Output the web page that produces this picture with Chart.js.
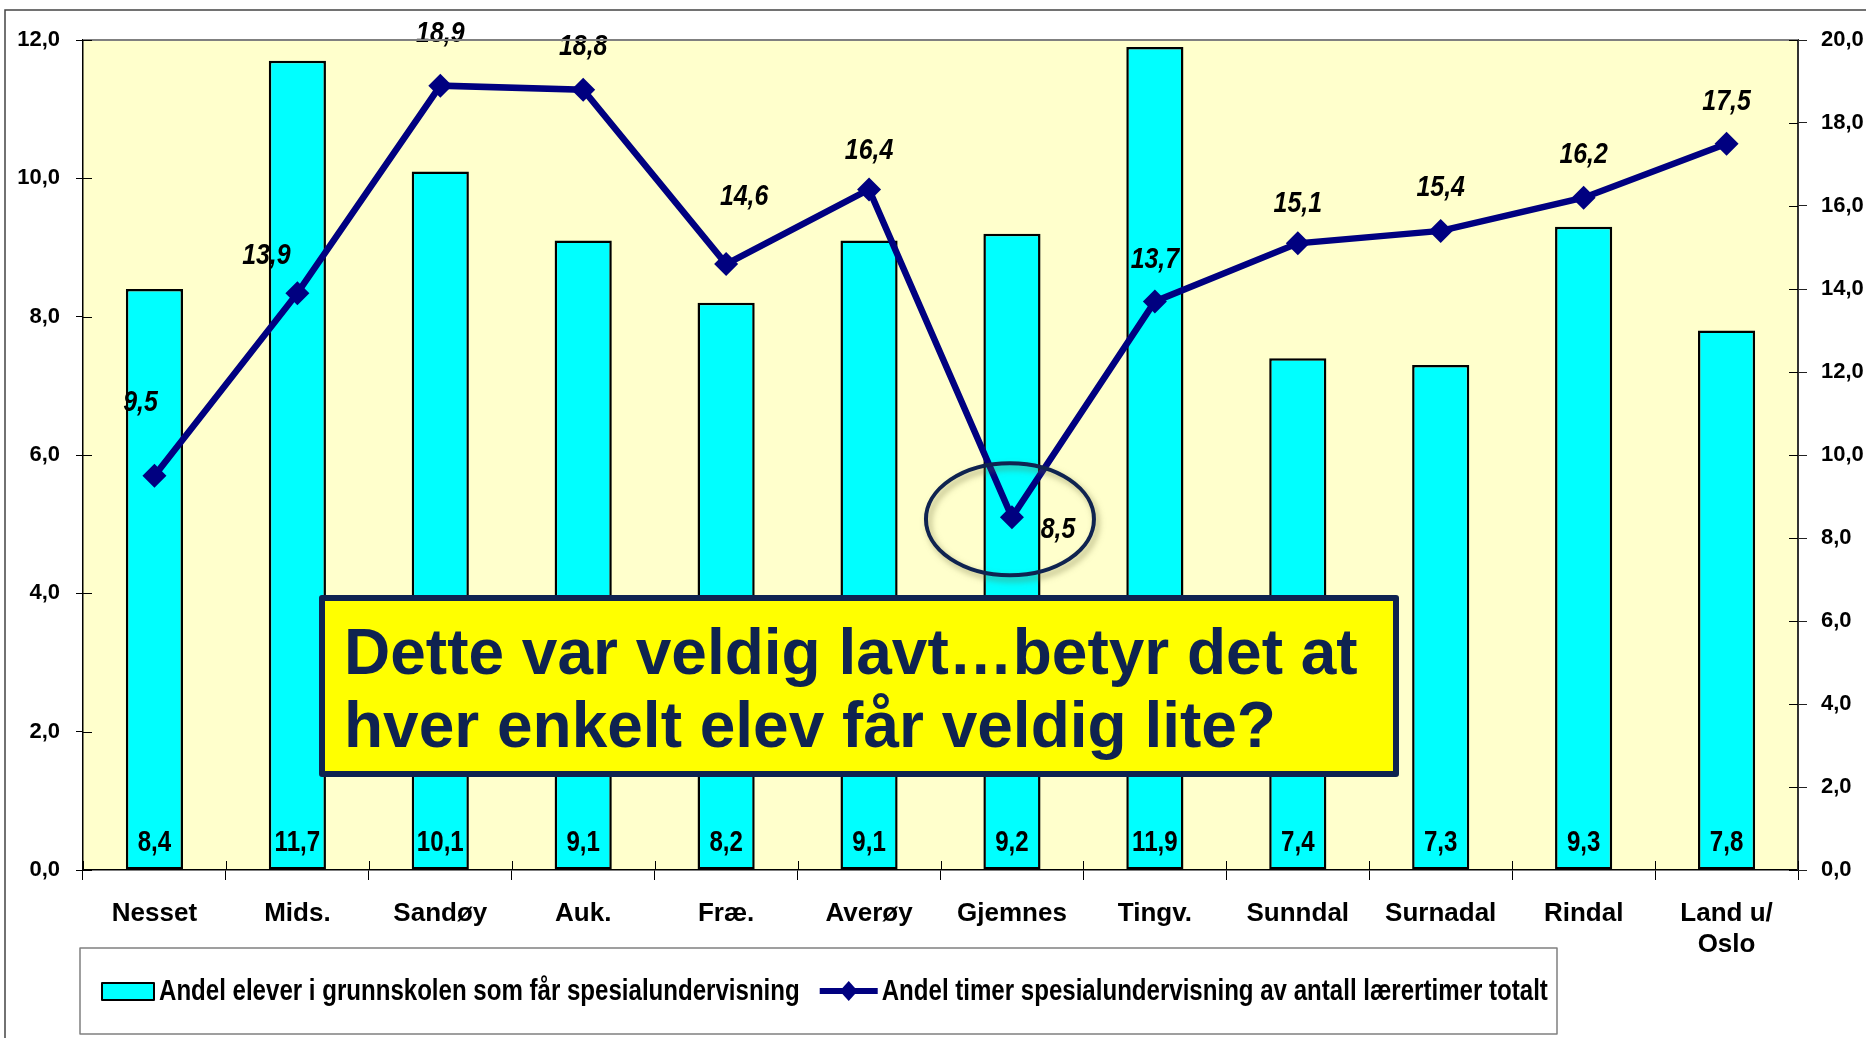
<!DOCTYPE html>
<html><head><meta charset="utf-8">
<script src="https://cdn.jsdelivr.net/npm/chart.js@4.4.0/dist/chart.umd.min.js"></script>
<style>html,body{margin:0;padding:0;background:#fff;overflow:hidden}canvas{display:block}</style>
</head><body>
<canvas id="c" width="1866" height="1038"></canvas>
<script>
// ---- data ----
const categories = ['Nesset','Mids.','Sandøy','Auk.','Fræ.','Averøy','Gjemnes','Tingv.','Sunndal','Surnadal','Rindal',['Land u/','Oslo']];
const elevShare = [8.4,11.7,10.1,9.1,8.2,9.1,9.2,11.9,7.4,7.3,9.3,7.8];
const timerShare = [9.5,13.9,18.9,18.8,14.6,16.4,8.5,13.7,15.1,15.4,16.2,17.5];
const leftTicks = [0,2,4,6,8,10,12];
const rightTicks = [0,2,4,6,8,10,12,14,16,18,20];
const seriesNames = ['Andel elever i grunnskolen som får spesialundervisning','Andel timer spesialundervisning av antall lærertimer totalt'];
const calloutLines = ['Dette var veldig lavt…betyr det at','hver enkelt elev får veldig lite?'];
const highlightIndex = 6;

// ---- styles ----
const FONT = "'Liberation Sans',Arial,sans-serif";
const NAVY = '#000080';
const DARK = '#0f2350';
const CYAN = '#00FFFF';
const SQUEEZE = 0.83; // imitate a narrow face
const fmt = v => Number(v).toFixed(1).replace('.', ',');
// label offsets (px) for the line value labels, relative to each point
const lineLabelOffset = [[-14,-73],[-31,-37],[0,-52],[0,-43],[18,-67],[0,-39],[46,12],[0,-42],[0,-40],[0,-43],[0,-43],[0,-42]];

Chart.defaults.font.family = FONT;
Chart.defaults.font.weight = 'bold';
Chart.defaults.color = '#000';

function narrowText(ctx, text, x, y, align) {
  ctx.save();
  ctx.translate(x, y);
  ctx.scale(SQUEEZE, 1);
  ctx.textAlign = align;
  ctx.fillText(text, 0, 0);
  ctx.restore();
}

const decor = {
  id: 'decor',
  beforeDraw(chart) {
    const ctx = chart.ctx, a = chart.chartArea;
    ctx.save();
    ctx.fillStyle = '#fff';
    ctx.fillRect(0, 0, chart.width, chart.height);
    ctx.strokeStyle = '#444';
    ctx.lineWidth = 1.5;
    ctx.strokeRect(5, 10, chart.width + 20, chart.height + 20);
    ctx.fillStyle = '#FFFFCC';
    ctx.fillRect(a.left, a.top, a.right - a.left, a.bottom - a.top);
    ctx.restore();
  },
  afterDatasetsDraw(chart) {
    const ctx = chart.ctx;
    ctx.save();
    const barMeta = chart.getDatasetMeta(0);
    const base = chart.scales.y.getPixelForValue(0);
    ctx.font = "bold 29px " + FONT;
    ctx.fillStyle = '#000';
    ctx.textBaseline = 'middle';
    barMeta.data.forEach((el, i) => {
      narrowText(ctx, fmt(elevShare[i]), el.x, base - 27, 'center');
    });
    const lineMeta = chart.getDatasetMeta(1);
    ctx.font = "italic bold 30px " + FONT;
    lineMeta.data.forEach((el, i) => {
      const o = lineLabelOffset[i];
      narrowText(ctx, fmt(timerShare[i]), el.x + o[0], el.y + o[1], 'center');
    });
    ctx.restore();
  },
  afterDraw(chart) {
    const ctx = chart.ctx, a = chart.chartArea;
    ctx.save();
    ctx.strokeStyle = '#808080';
    ctx.lineWidth = 2;
    ctx.beginPath(); ctx.moveTo(a.left, a.top); ctx.lineTo(a.right, a.top); ctx.stroke();
    // inner tick halves
    ctx.strokeStyle = '#000';
    ctx.lineWidth = 1;
    ctx.beginPath();
    chart.scales.y.ticks.forEach(t => {
      const y = Math.round(chart.scales.y.getPixelForValue(t.value)) + 0.5;
      ctx.moveTo(a.left, y); ctx.lineTo(a.left + 9, y);
    });
    chart.scales.y1.ticks.forEach(t => {
      const y = Math.round(chart.scales.y1.getPixelForValue(t.value)) + 0.5;
      ctx.moveTo(a.right - 9, y); ctx.lineTo(a.right, y);
    });
    const n = categories.length, w = (a.right - a.left) / n;
    for (let i = 0; i <= n; i++) {
      const x = Math.round(a.left + i * w) + 0.5;
      ctx.moveTo(x, a.bottom - 9); ctx.lineTo(x, a.bottom);
    }
    ctx.stroke();

    // ellipse around highlighted point
    const p = chart.getDatasetMeta(1).data[highlightIndex];
    ctx.save();
    ctx.shadowColor = 'rgba(110,110,60,0.55)';
    ctx.shadowBlur = 6;
    ctx.shadowOffsetX = 3;
    ctx.shadowOffsetY = 4;
    ctx.strokeStyle = DARK;
    ctx.lineWidth = 4;
    ctx.beginPath();
    ctx.ellipse(p.x - 2, p.y + 2, 84, 56, 0, 0, Math.PI * 2);
    ctx.stroke();
    ctx.restore();

    // callout box
    ctx.fillStyle = '#FFFF00';
    ctx.fillRect(322, 598, 1074, 176);
    ctx.strokeStyle = DARK;
    ctx.lineWidth = 6;
    ctx.lineJoin = 'round';
    ctx.strokeRect(322, 598, 1074, 176);
    ctx.fillStyle = DARK;
    ctx.font = "bold 64px " + FONT;
    ctx.textAlign = 'left';
    ctx.textBaseline = 'alphabetic';
    ctx.fillText(calloutLines[0], 344, 674);
    ctx.fillText(calloutLines[1], 344, 747);

    // legend
    ctx.strokeStyle = '#808080';
    ctx.lineWidth = 1.5;
    ctx.strokeRect(80, 948, 1477, 86);
    const cy = 991;
    ctx.fillStyle = CYAN;
    ctx.fillRect(102, cy - 8, 52, 17);
    ctx.strokeStyle = '#000';
    ctx.lineWidth = 2;
    ctx.strokeRect(102, cy - 8, 52, 17);
    ctx.font = "bold 29px " + FONT;
    ctx.fillStyle = '#000';
    ctx.textBaseline = 'middle';
    narrowText(ctx, seriesNames[0], 159, cy + 1, 'left');
    const w1 = ctx.measureText(seriesNames[0]).width * SQUEEZE;
    const sx = 159 + w1 + 20;
    ctx.strokeStyle = NAVY;
    ctx.lineWidth = 6;
    ctx.beginPath(); ctx.moveTo(sx, cy); ctx.lineTo(sx + 58, cy); ctx.stroke();
    ctx.fillStyle = NAVY;
    ctx.beginPath();
    ctx.moveTo(sx + 29, cy - 10); ctx.lineTo(sx + 38, cy); ctx.lineTo(sx + 29, cy + 10); ctx.lineTo(sx + 20, cy);
    ctx.closePath(); ctx.fill();
    ctx.fillStyle = '#000';
    narrowText(ctx, seriesNames[1], sx + 62, cy + 1, 'left');
    ctx.restore();
  }
};

new Chart(document.getElementById('c'), {
  data: {
    labels: categories,
    datasets: [
      {
        type: 'bar', label: seriesNames[0], data: elevShare, yAxisID: 'y', order: 2,
        backgroundColor: CYAN, borderColor: '#000', borderWidth: 2.5, borderSkipped: false,
        categoryPercentage: 1, barPercentage: 0.4
      },
      {
        type: 'line', label: seriesNames[1], data: timerShare, yAxisID: 'y1', order: 1,
        borderColor: NAVY, borderWidth: 6.5, backgroundColor: NAVY,
        pointStyle: 'rectRot', pointRadius: 12, pointBorderWidth: 0, pointBackgroundColor: NAVY,
        tension: 0, fill: false
      }
    ]
  },
  options: {
    responsive: false, animation: false, devicePixelRatio: 1,
    layout: { padding: { top: 40, left: 0, right: 0, bottom: 0 } },
    plugins: { legend: { display: false }, tooltip: { enabled: false } },
    scales: {
      x: {
        offset: true,
        grid: { display: true, offset: true, drawOnChartArea: false, tickLength: 10, color: '#000', lineWidth: 1 },
        border: { display: true, color: '#000', width: 1.5 },
        ticks: { font: { size: 26, weight: 'bold' }, padding: 18, maxRotation: 0, autoSkip: false, color: '#000' },
        afterFit: s => { s.height = 168; }
      },
      y: {
        position: 'left', min: 0, max: 12,
        afterBuildTicks: s => { s.ticks = leftTicks.map(v => ({ value: v })); },
        grid: { drawOnChartArea: false, tickLength: 7, color: '#000' },
        border: { display: true, color: '#000', width: 1.5 },
        ticks: { callback: v => fmt(v), font: { size: 22, weight: 'bold' }, padding: 16, color: '#000' },
        afterFit: s => { s.width = 83; }
      },
      y1: {
        position: 'right', min: 0, max: 20,
        afterBuildTicks: s => { s.ticks = rightTicks.map(v => ({ value: v })); },
        grid: { drawOnChartArea: false, tickLength: 9, color: '#222' },
        border: { display: true, color: '#333', width: 2 },
        ticks: { callback: v => fmt(v), font: { size: 22, weight: 'bold' }, padding: 14, color: '#000' },
        afterFit: s => { s.width = 68; }
      }
    }
  },
  plugins: [decor]
});
</script>
</body></html>
